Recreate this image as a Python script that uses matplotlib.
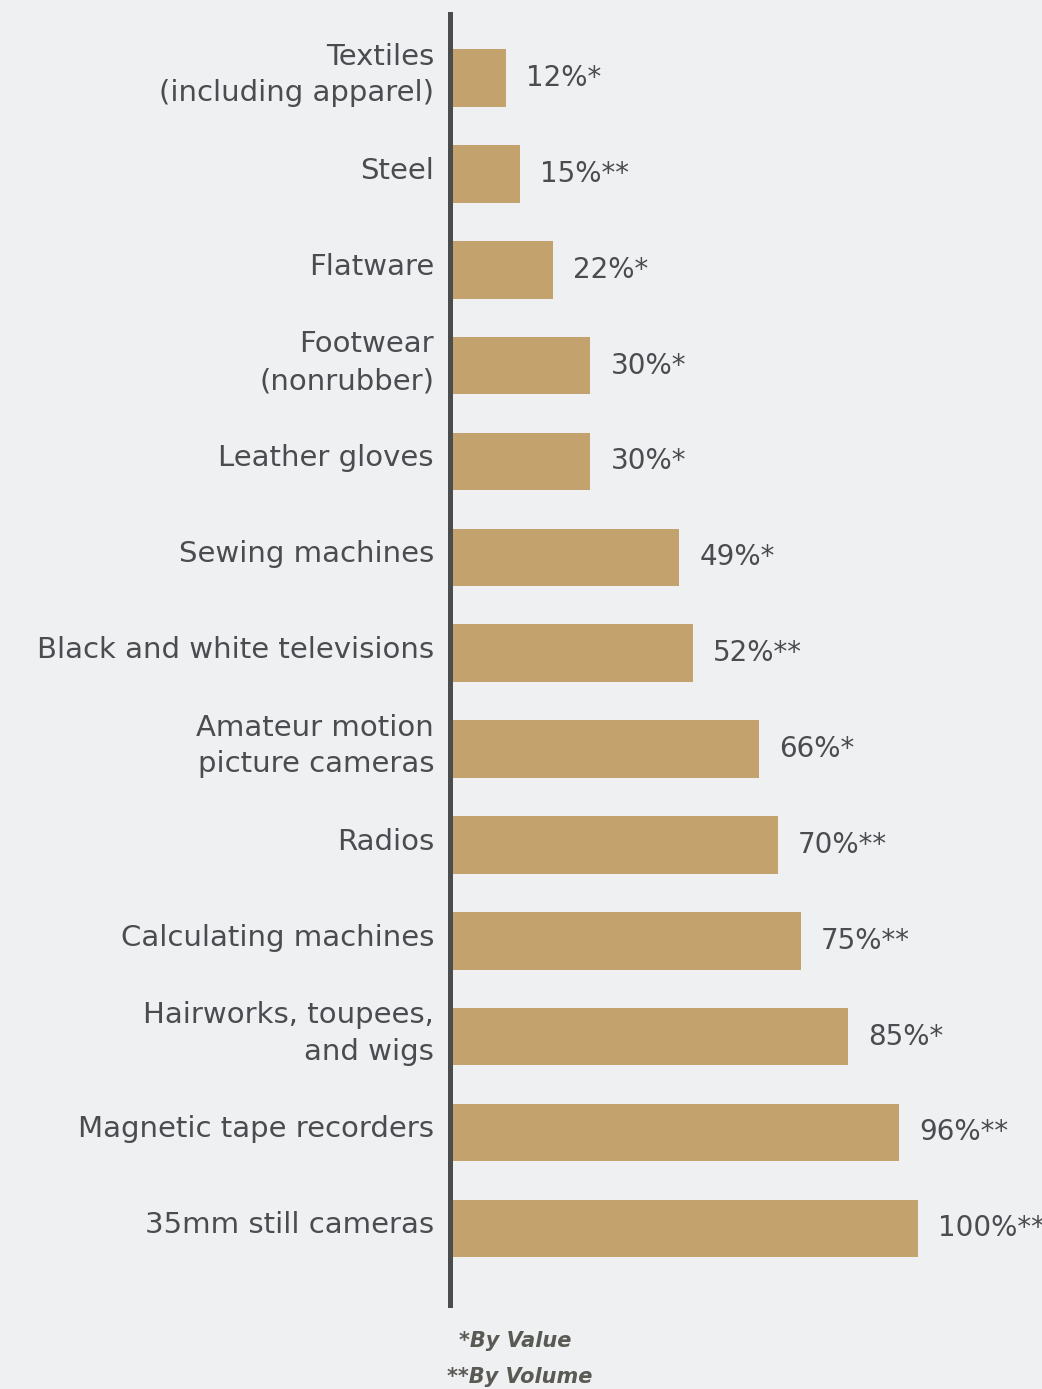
import matplotlib.pyplot as plt
import matplotlib.transforms as mtransforms

categories = ["Textiles\n(including apparel)", "Steel", "Flatware",
              "Footwear\n(nonrubber)", "Leather gloves", "Sewing machines",
              "Black and white televisions", "Amateur motion\npicture cameras",
              "Radios", "Calculating machines", "Hairworks, toupees,\nand wigs",
              "Magnetic tape recorders", "35mm still cameras"]
values = [12, 15, 22, 30, 30, 49, 52, 66, 70, 75, 85, 96, 100]
marks = ["*", "**", "*", "*", "*", "*", "**", "*", "**", "**", "*", "**", "**"]

bg = "#eef0f2"
bar_col = "#c4a26e"
txt = "#4c4c50"

plt.rcParams['font.family'] = ['DejaVu Sans']

fig = plt.figure(figsize=(10.42, 13.89), dpi=100, facecolor=bg)
# axes: left edge at x=450px, top 14px, bottom 1305px
ax = fig.add_axes([450/1042, (1389-1305)/1389, 585/1042, 1291/1389])
ax.set_facecolor(bg)

pos = list(range(len(categories)))
ax.barh(pos, values, height=0.6, color=bar_col, left=0)
ax.set_xlim(0, 125)
ax.set_ylim(12.8, -0.668)

for s in ["top", "right", "bottom"]:
    ax.spines[s].set_visible(False)
ax.spines["left"].set_color("#4a4c4e")
ax.spines["left"].set_linewidth(3.6)
ax.set_xticks([])
ax.set_yticks([])

lab_off = mtransforms.offset_copy(ax.transData, fig=fig, x=-16, y=3, units='dots')
val_off = mtransforms.offset_copy(ax.transData, fig=fig, x=20, y=0, units='dots')
for i, (c, v, m) in enumerate(zip(categories, values, marks)):
    ax.text(0, i, c, transform=lab_off, ha="right", va="center",
            fontsize=21, color=txt, linespacing=1.4)
    ax.text(v, i, f"{v}%{m}", transform=val_off, ha="left", va="center",
            fontsize=20, color=txt, clip_on=False)

fig.text(515/1042, 1-1341/1389, "*By Value", ha="center", va="center",
         fontsize=15, fontweight="bold", style="italic", color="#5a5a55")
fig.text(520/1042, 1-1377/1389, "**By Volume", ha="center", va="center",
         fontsize=15, fontweight="bold", style="italic", color="#5a5a55")

fig.savefig("out.png", dpi=100, facecolor=bg)
